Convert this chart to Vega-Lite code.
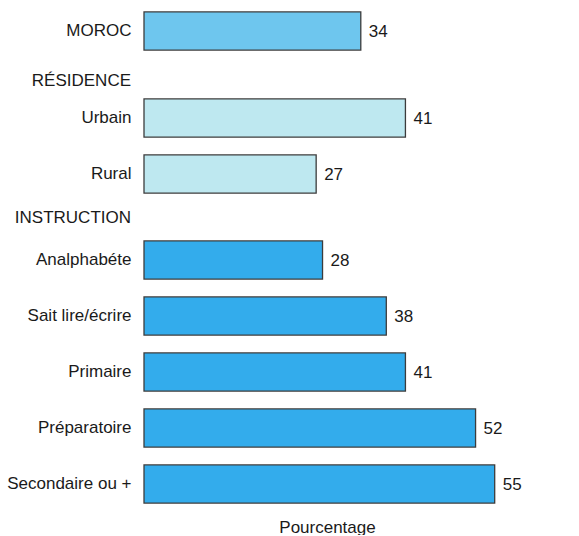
{
  "$schema": "https://vega.github.io/schema/vega-lite/v6.json",
  "padding": {"left": 6, "top": 3, "right": 5, "bottom": 0},
  "background": "white",
  "config": {
    "view": {"stroke": null},
    "font": "Liberation Sans",
    "axis": {"labelFont": "Liberation Sans", "titleFont": "Liberation Sans"},
    "concat": {"spacing": 7}
  },
  "data": {"values": [
    {"groupe": "MOROC", "categorie": "MOROC", "pourcentage": 34},
    {"groupe": "RÉSIDENCE", "categorie": "Urbain", "pourcentage": 41},
    {"groupe": "RÉSIDENCE", "categorie": "Rural", "pourcentage": 27},
    {"groupe": "INSTRUCTION", "categorie": "Analphabéte", "pourcentage": 28},
    {"groupe": "INSTRUCTION", "categorie": "Sait lire/écrire", "pourcentage": 38},
    {"groupe": "INSTRUCTION", "categorie": "Primaire", "pourcentage": 41},
    {"groupe": "INSTRUCTION", "categorie": "Préparatoire", "pourcentage": 52},
    {"groupe": "INSTRUCTION", "categorie": "Secondaire ou +", "pourcentage": 55}
  ]},
  "resolve": {"scale": {"x": "shared", "color": "shared"}},
  "vconcat": [
    {
      "width": 366,
      "height": {"step": 56},
      "transform": [{"filter": "datum.groupe === 'MOROC'"}],
      "encoding": {
        "y": {"field": "categorie", "type": "nominal", "sort": null,
              "scale": {"paddingInner": 0.32, "paddingOuter": 0.16},
              "axis": {"title": null, "ticks": false, "domain": false, "labelPadding": 13, "labelFontSize": 17, "labelColor": "#1a1a1a"}},
        "x": {"field": "pourcentage", "type": "quantitative",
              "scale": {"domain": [0, 57.4], "nice": false},
              "axis": null}
      },
      "layer": [
        {"mark": {"type": "bar", "stroke": "#3c3c3c", "strokeWidth": 1.3},
         "encoding": {"color": {"field": "groupe", "type": "nominal",
            "scale": {"domain": ["MOROC", "RÉSIDENCE", "INSTRUCTION"], "range": ["#6EC6EE", "#BEE8F0", "#33ACEC"]},
            "legend": null}}},
        {"mark": {"type": "text", "align": "left", "baseline": "middle", "dx": 8, "dy": 1, "fontSize": 17, "color": "#1a1a1a"},
         "encoding": {"text": {"field": "pourcentage", "type": "quantitative"}}}
      ]
    },
    {
      "width": 366,
      "height": {"step": 56},
      "title": {"text": ["", "RÉSIDENCE"], "lineHeight": 6, "anchor": "start", "frame": "group", "align": "right", "dx": -13, "offset": 0, "fontSize": 17, "fontWeight": "normal", "color": "#1a1a1a", "font": "Liberation Sans"},
      "transform": [{"filter": "datum.groupe === 'RÉSIDENCE'"}],
      "encoding": {
        "y": {"field": "categorie", "type": "nominal", "sort": null,
              "scale": {"paddingInner": 0.32, "paddingOuter": 0.16},
              "axis": {"title": null, "ticks": false, "domain": false, "labelPadding": 13, "labelFontSize": 17, "labelColor": "#1a1a1a"}},
        "x": {"field": "pourcentage", "type": "quantitative",
              "scale": {"domain": [0, 57.4], "nice": false},
              "axis": null}
      },
      "layer": [
        {"mark": {"type": "bar", "stroke": "#3c3c3c", "strokeWidth": 1.3},
         "encoding": {"color": {"field": "groupe", "type": "nominal",
            "scale": {"domain": ["MOROC", "RÉSIDENCE", "INSTRUCTION"], "range": ["#6EC6EE", "#BEE8F0", "#33ACEC"]},
            "legend": null}}},
        {"mark": {"type": "text", "align": "left", "baseline": "middle", "dx": 8, "dy": 1, "fontSize": 17, "color": "#1a1a1a"},
         "encoding": {"text": {"field": "pourcentage", "type": "quantitative"}}}
      ]
    },
    {
      "width": 366,
      "height": {"step": 56},
      "title": {"text": "INSTRUCTION", "anchor": "start", "frame": "group", "align": "right", "dx": -13, "offset": 5, "fontSize": 17, "fontWeight": "normal", "color": "#1a1a1a", "font": "Liberation Sans"},
      "transform": [{"filter": "datum.groupe === 'INSTRUCTION'"}],
      "encoding": {
        "y": {"field": "categorie", "type": "nominal", "sort": null,
              "scale": {"paddingInner": 0.32, "paddingOuter": 0.16},
              "axis": {"title": null, "ticks": false, "domain": false, "labelPadding": 13, "labelFontSize": 17, "labelColor": "#1a1a1a"}},
        "x": {"field": "pourcentage", "type": "quantitative",
              "scale": {"domain": [0, 57.4], "nice": false},
              "axis": {"title": "Pourcentage", "labels": false, "ticks": false, "domain": false, "grid": false, "titleFontSize": 17, "titleFontWeight": "normal", "titleColor": "#1a1a1a", "titlePadding": 7}}
      },
      "layer": [
        {"mark": {"type": "bar", "stroke": "#3c3c3c", "strokeWidth": 1.3},
         "encoding": {"color": {"field": "groupe", "type": "nominal",
            "scale": {"domain": ["MOROC", "RÉSIDENCE", "INSTRUCTION"], "range": ["#6EC6EE", "#BEE8F0", "#33ACEC"]},
            "legend": null}}},
        {"mark": {"type": "text", "align": "left", "baseline": "middle", "dx": 8, "dy": 1, "fontSize": 17, "color": "#1a1a1a"},
         "encoding": {"text": {"field": "pourcentage", "type": "quantitative"}}}
      ]
    }
  ]
}
